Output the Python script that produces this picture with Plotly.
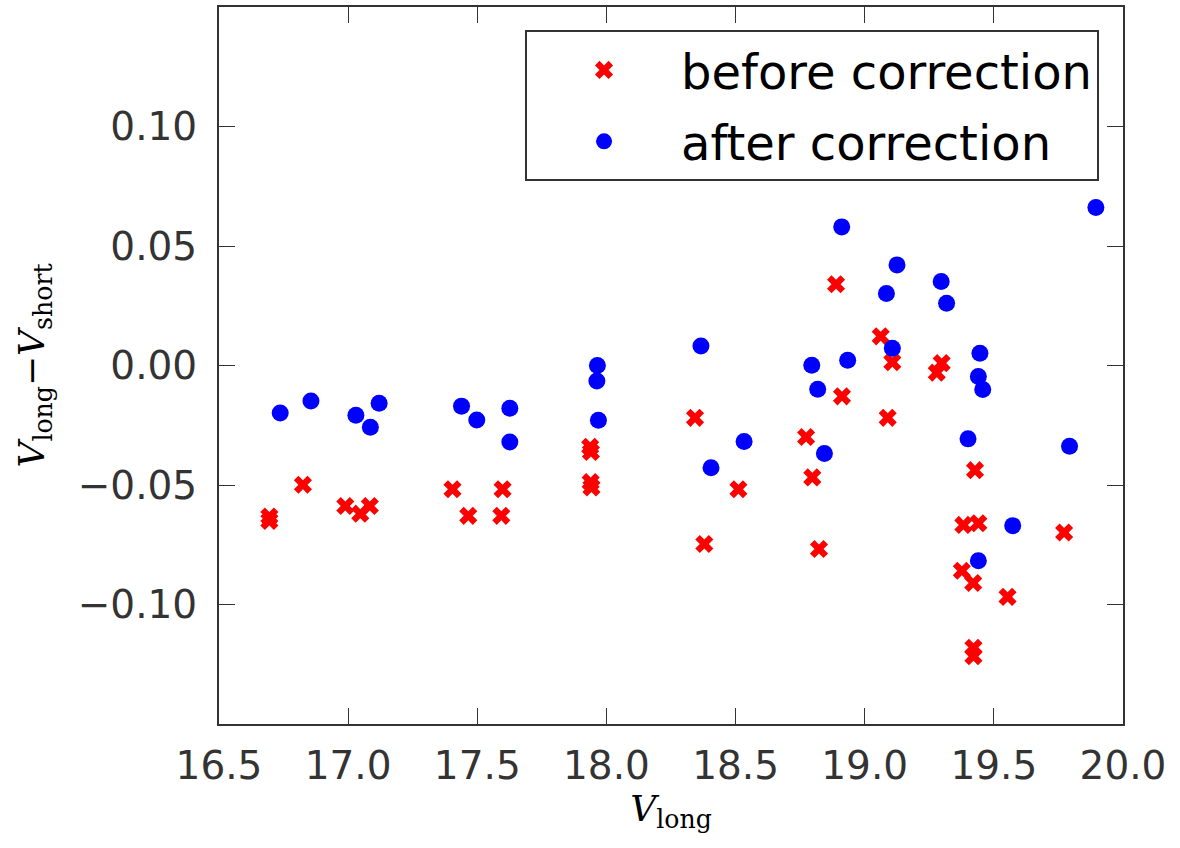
import plotly.graph_objects as go

before_x = [16.695, 16.695, 16.825, 16.989, 17.047, 17.084, 17.404, 17.465, 17.598, 17.593,
            17.937, 17.940, 17.939, 17.942, 18.343, 18.379, 18.511, 18.773, 18.797, 18.823,
            18.889, 18.912, 19.062, 19.107, 19.089, 19.279, 19.298, 19.427, 19.382, 19.440,
            19.376, 19.420, 19.553, 19.421, 19.421, 19.772]
before_y = [-0.0632, -0.0650, -0.0499, -0.0588, -0.0620, -0.0588, -0.0518, -0.0629, -0.0518, -0.0629,
            -0.0340, -0.0362, -0.0488, -0.0510, -0.0219, -0.0747, -0.0518, -0.0299, -0.0468, -0.0768,
            0.0340, -0.0129, 0.0122, 0.0014, -0.0219, -0.0030, 0.0010, -0.0438, -0.0667, -0.0660,
            -0.0859, -0.0910, -0.0968, -0.1181, -0.1216, -0.0699]

after_x = [16.737, 16.856, 17.030, 17.120, 17.086, 17.439, 17.498, 17.626, 17.626, 17.963,
           17.965, 17.969, 18.366, 18.405, 18.533, 18.795, 18.818, 18.844, 18.911, 18.934,
           19.084, 19.107, 19.125, 19.296, 19.317, 19.400, 19.446, 19.440, 19.457, 19.440,
           19.573, 19.793, 19.895]
after_y = [-0.0199, -0.0149, -0.0208, -0.0158, -0.0258, -0.0170, -0.0228, -0.0179, -0.0320, -0.0065,
           0.0000, -0.0229, 0.0082, -0.0428, -0.0318, 0.0001, -0.0099, -0.0368, 0.0580, 0.0022,
           0.0301, 0.0072, 0.0421, 0.0351, 0.0260, -0.0307, 0.0051, -0.0046, -0.0100, -0.0817,
           -0.0670, -0.0338, 0.0661]

x_ticks = [16.5, 17.0, 17.5, 18.0, 18.5, 19.0, 19.5, 20.0]
y_ticks = [-0.10, -0.05, 0.00, 0.05, 0.10]
y_tick_labels = ["\u22120.10", "\u22120.05", "0.00", "0.05", "0.10"]

fig = go.Figure()
fig.add_trace(go.Scatter(
    x=before_x, y=before_y, mode="markers", name="before correction",
    legendgroup="a",
    marker=dict(symbol="x", size=16, color="red", line=dict(width=0)),
))
fig.add_trace(go.Scatter(
    x=after_x, y=after_y, mode="markers", name="after correction",
    legendgroup="b",
    marker=dict(symbol="circle", size=17, color="blue", line=dict(width=0)),
))

axis_common = dict(
    showline=True, linecolor="#333333", linewidth=2, mirror="ticks",
    ticks="inside", ticklen=16, tickwidth=1.3, tickcolor="#333333",
    showgrid=False, zeroline=False,
    tickfont=dict(family="DejaVu Sans", size=39, color="#333333"),
)

fig.update_layout(
    width=1180, height=848,
    margin=dict(l=219, r=57, t=5, b=124),
    paper_bgcolor="white", plot_bgcolor="white",
    showlegend=True,
    legend=dict(
        x=0.9735, y=0.9676, xanchor="right", yanchor="top",
        bordercolor="#333333", borderwidth=2, bgcolor="white",
        font=dict(family="DejaVu Sans", size=48, color="black"),
        itemwidth=144, tracegroupgap=6,
    ),
    xaxis=dict(
        range=[16.5, 20.0], tickvals=x_ticks,
        ticktext=[f"{v:.1f}" for v in x_ticks],
        ticklabelstandoff=6,
        title=dict(text="<i>V</i><sub>long</sub>", standoff=4,
                   font=dict(family="DejaVu Serif", size=36, color="black")),
        **axis_common,
    ),
    yaxis=dict(
        range=[-0.15, 0.15], tickvals=y_ticks, ticktext=y_tick_labels,
        ticklabelstandoff=12,
        title=dict(text="<i>V</i><sub>long</sub>\u2212<i>V</i><sub>short</sub>", standoff=22,
                   font=dict(family="DejaVu Serif", size=36, color="black")),
        **axis_common,
    ),
)

fig.write_html("out.html",
               config={"displayModeBar": False},
               post_script="document.body.style.margin='0';document.body.style.padding='0';")
